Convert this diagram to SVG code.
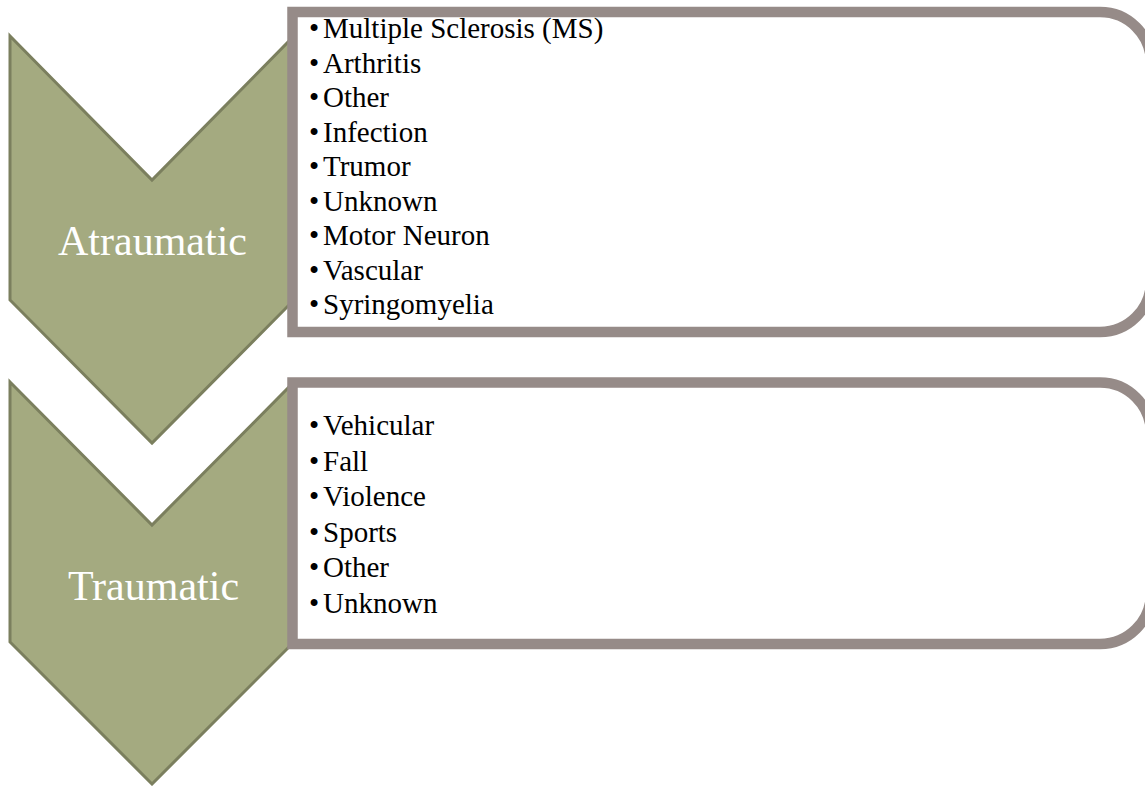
<svg xmlns="http://www.w3.org/2000/svg" width="1145" height="786" viewBox="0 0 1145 786">
  <style>
    .chev { fill: #a4aa80; stroke: #7b7f5e; stroke-width: 3; stroke-linejoin: miter; }
    .box { fill: #ffffff; stroke: #968b88; stroke-width: 10.5; }
    .lbl { font-family: "Liberation Serif", "Times New Roman", serif; font-size: 42px; fill: #ffffff; text-anchor: middle; }
    .item { font-family: "Liberation Serif", "Times New Roman", serif; font-size: 29px; fill: #000000; }
  </style>
  <rect width="1145" height="786" fill="#ffffff"/>
  <g id="chevron-atraumatic">
    <polygon class="chev" points="10,36 152,180 294,36 294,300 152,443 10,300"/>
  </g>
  <g id="chevron-traumatic">
    <polygon class="chev" points="10,382 152,525 294,382 294,642 152,784 10,642"/>
  </g>
  <g id="box-atraumatic">
    <path class="box" d="M292.5,12 H1100 A51,51 0 0 1 1151,63 V281 A51,51 0 0 1 1100,332 H292.5 Z"/>
    <text class="item"><tspan x="309" y="38">•</tspan><tspan x="323" y="38">Multiple Sclerosis (MS)</tspan></text>
    <text class="item"><tspan x="309" y="72.5">•</tspan><tspan x="323" y="72.5">Arthritis</tspan></text>
    <text class="item"><tspan x="309" y="107">•</tspan><tspan x="323" y="107">Other</tspan></text>
    <text class="item"><tspan x="309" y="141.5">•</tspan><tspan x="323" y="141.5">Infection</tspan></text>
    <text class="item"><tspan x="309" y="176">•</tspan><tspan x="323" y="176">Trumor</tspan></text>
    <text class="item"><tspan x="309" y="210.5">•</tspan><tspan x="323" y="210.5">Unknown</tspan></text>
    <text class="item"><tspan x="309" y="245">•</tspan><tspan x="323" y="245">Motor Neuron</tspan></text>
    <text class="item"><tspan x="309" y="279.5">•</tspan><tspan x="323" y="279.5">Vascular</tspan></text>
    <text class="item"><tspan x="309" y="314">•</tspan><tspan x="323" y="314">Syringomyelia</tspan></text>
  </g>
  <g id="box-traumatic">
    <path class="box" d="M292.5,382.5 H1100 A51,51 0 0 1 1151,433.5 V593 A51,51 0 0 1 1100,644 H292.5 Z"/>
    <text class="item"><tspan x="309" y="435">•</tspan><tspan x="323" y="435">Vehicular</tspan></text>
    <text class="item"><tspan x="309" y="470.5">•</tspan><tspan x="323" y="470.5">Fall</tspan></text>
    <text class="item"><tspan x="309" y="506">•</tspan><tspan x="323" y="506">Violence</tspan></text>
    <text class="item"><tspan x="309" y="541.5">•</tspan><tspan x="323" y="541.5">Sports</tspan></text>
    <text class="item"><tspan x="309" y="577">•</tspan><tspan x="323" y="577">Other</tspan></text>
    <text class="item"><tspan x="309" y="612.5">•</tspan><tspan x="323" y="612.5">Unknown</tspan></text>
  </g>
  <g id="labels">
    <text class="lbl" x="152.5" y="255">Atraumatic</text>
    <text class="lbl" x="153.5" y="600">Traumatic</text>
  </g>
  <g id="connectors"></g>
</svg>
